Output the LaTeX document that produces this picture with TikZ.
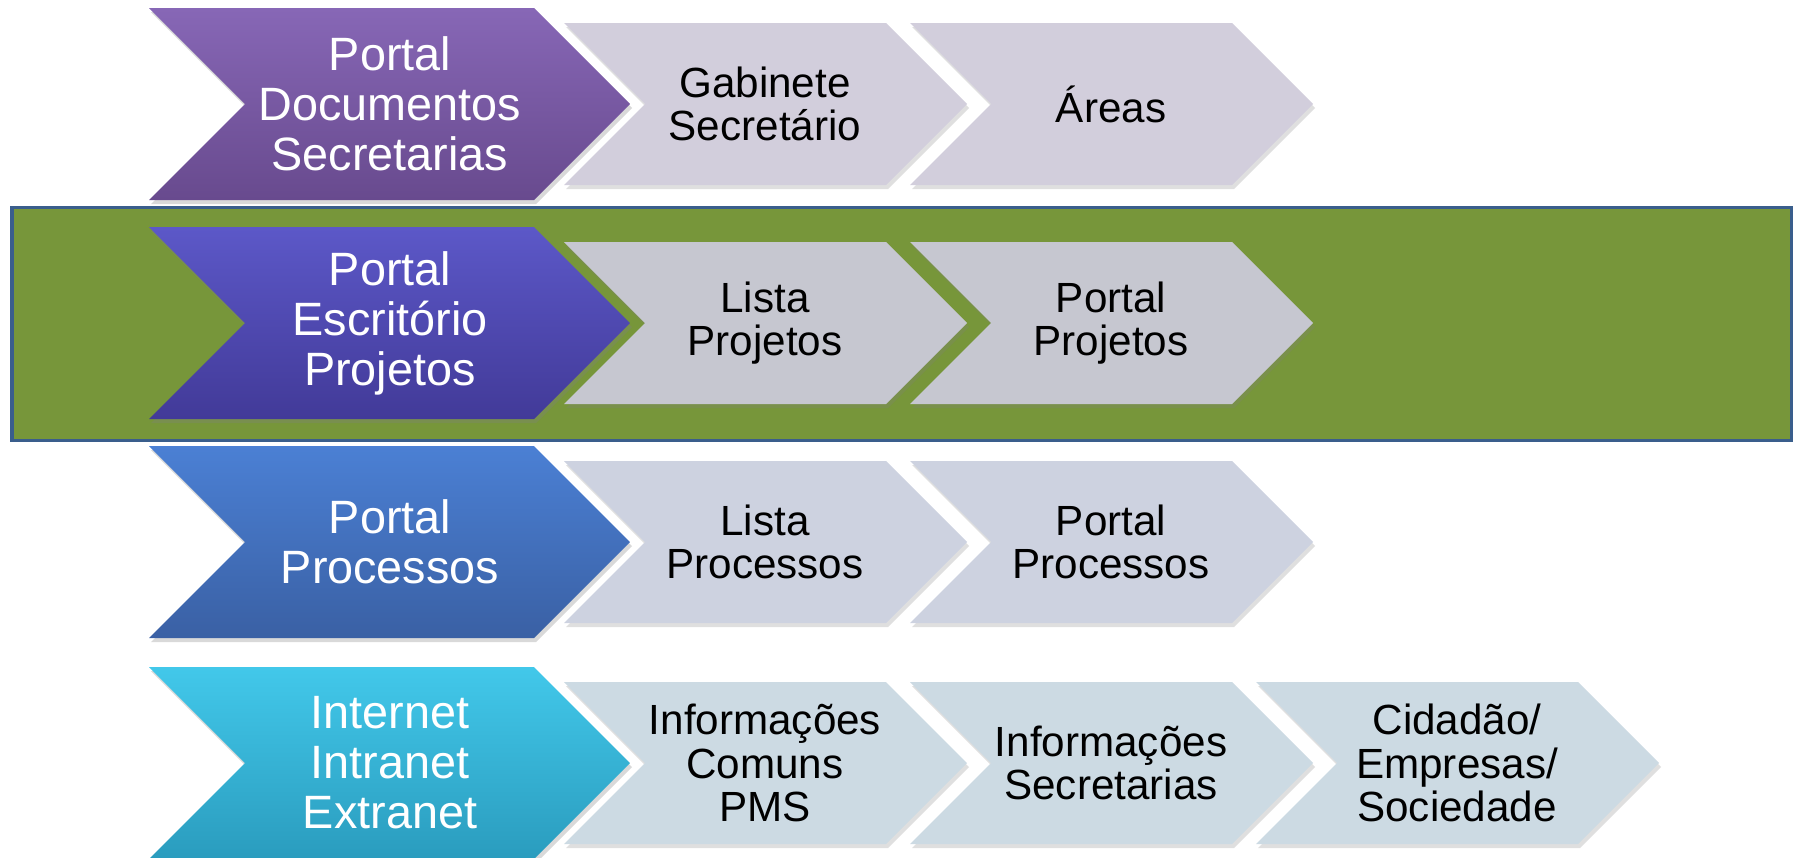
\documentclass[tikz,border=0pt]{standalone}
\usepackage{fontspec}
\setmainfont{Liberation Sans}
\usetikzlibrary{shadows}
\definecolor{bandfill}{HTML}{77963A}
\definecolor{bandedge}{HTML}{3A5E8C}
\definecolor{purpletop}{HTML}{8767B6}
\definecolor{purplebot}{HTML}{684A8E}
\definecolor{indigotop}{HTML}{5C58C8}
\definecolor{indigobot}{HTML}{423A98}
\definecolor{bluetop}{HTML}{4B80D4}
\definecolor{bluebot}{HTML}{3A60A4}
\definecolor{cyantop}{HTML}{42C8EA}
\definecolor{cyanbot}{HTML}{2A9CBE}
\definecolor{lilac}{HTML}{D2CEDC}
\definecolor{silver}{HTML}{C6C7D0}
\definecolor{mist}{HTML}{CDD2E0}
\definecolor{ice}{HTML}{CCDAE3}
\begin{document}
\begin{tikzpicture}[x=0.01cm,y=-0.01cm,
    band/.style={draw=bandedge,fill=bandfill,line width=0.03cm},
    bigchev/.style={drop shadow={opacity=0.3,shadow xshift=0.02cm,shadow yshift=-0.04cm}},
    smallchev/.style={drop shadow={opacity=0.25,shadow xshift=0.02cm,shadow yshift=-0.04cm}},
    bigtext/.style={text=white,align=center,font=\fontsize{13.3}{14.2}\selectfont},
    smalltext/.style={text=black,align=center,font=\fontsize{12}{12.4}\selectfont}]
  \useasboundingbox (0,0) rectangle (1795,857);
  % faixa verde
  \draw[band] (12,207) rectangle (1791,440);
  % setas grandes
  \foreach \cy/\ctop/\cbot in {104/purpletop/purplebot,323/indigotop/indigobot,542/bluetop/bluebot,763/cyantop/cyanbot}
    \path[bigchev,top color=\ctop,bottom color=\cbot] (149,\cy-96) -- ++(385,0) -- ++(96,96) -- ++(-96,96) -- ++(-385,0) -- ++(96,-96) -- cycle;
  % setas pequenas
  \foreach \cx/\cy/\cfill in {564/104/lilac,910/104/lilac,564/323/silver,910/323/silver,564/542/mist,910/542/mist,564/763/ice,910/763/ice,1256/763/ice}
    \path[smallchev,fill=\cfill] (\cx,\cy-81) -- ++(322,0) -- ++(81,81) -- ++(-81,81) -- ++(-322,0) -- ++(81,-81) -- cycle;
  % textos
  \node[bigtext] (portaldoc) at (390,104) {Portal\\Documentos\\Secretarias};
  \node[smalltext] (gabinete) at (765,104) {Gabinete\\Secretário};
  \node[smalltext] (areas) at (1111,104) {Áreas};
  \node[bigtext] (escritorio) at (390,323) {Portal\\Escritório\\Projetos};
  \node[smalltext] (listaproj) at (765,323) {Lista\\Projetos};
  \node[smalltext] (portalproj) at (1111,323) {Portal\\Projetos};
  \node[bigtext] (processos) at (390,542) {Portal\\Processos};
  \node[smalltext] (listaproc) at (765,542) {Lista\\Processos};
  \node[smalltext] (portalproc) at (1111,542) {Portal\\Processos};
  \node[bigtext] (internet) at (390,763) {Internet\\Intranet\\Extranet};
  \node[smalltext] (infocomuns) at (765,763) {Informações\\Comuns\\PMS};
  \node[smalltext] (infosec) at (1111,763) {Informações\\Secretarias};
  \node[smalltext] (cidadao) at (1457,763) {Cidadão/\\Empresas/\\Sociedade};
\end{tikzpicture}
\end{document}
